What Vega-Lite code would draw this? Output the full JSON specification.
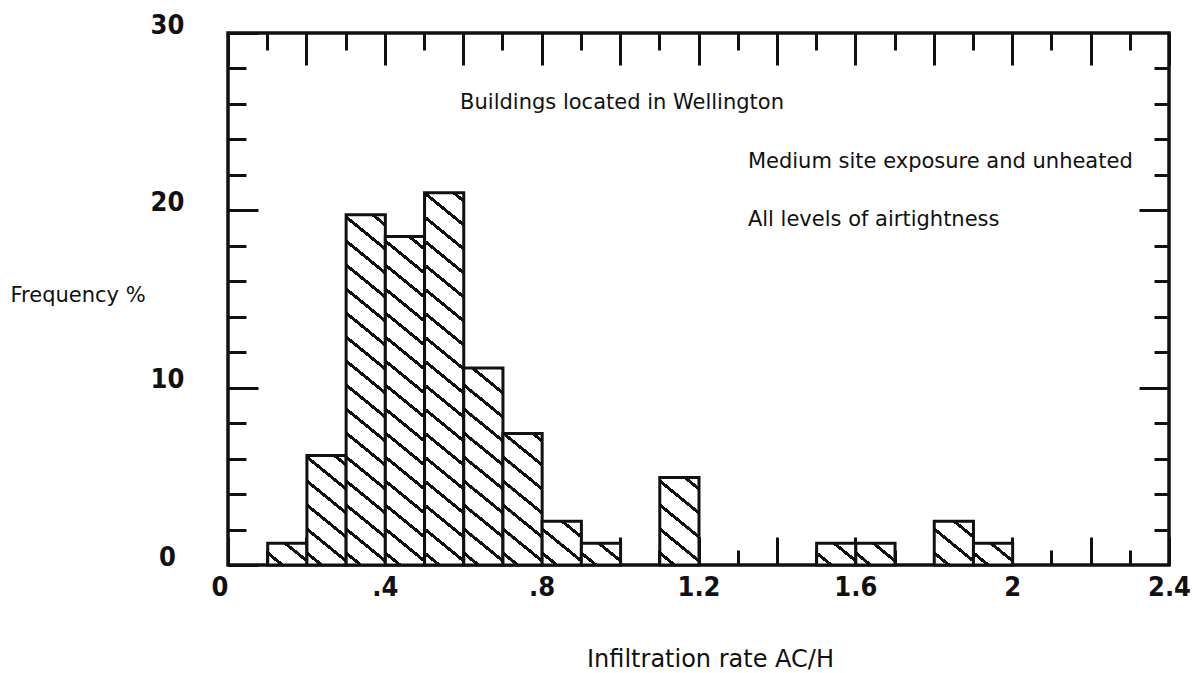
{
  "$schema": "https://vega.github.io/schema/vega-lite/v6.json",
  "width": 941,
  "height": 532,
  "autosize": {"type": "none"},
  "padding": {"left": 228, "top": 33, "right": 28, "bottom": 108},
  "background": "white",
  "config": {
    "view": {"stroke": "#111", "strokeWidth": 3.5},
    "axis": {"domain": false, "grid": false, "tickColor": "#111", "tickWidth": 3, "labelColor": "#111", "titleColor": "#111"}
  },
  "params": [
    {
      "name": "hatch",
      "value": [
        {"offset": 0, "color": "#fff"},
        {"offset": 0.02, "color": "#fff"}, {"offset": 0.02, "color": "#111"}, {"offset": 0.028, "color": "#111"}, {"offset": 0.028, "color": "#fff"},
        {"offset": 0.068, "color": "#fff"}, {"offset": 0.068, "color": "#111"}, {"offset": 0.076, "color": "#111"}, {"offset": 0.076, "color": "#fff"},
        {"offset": 0.116, "color": "#fff"}, {"offset": 0.116, "color": "#111"}, {"offset": 0.124, "color": "#111"}, {"offset": 0.124, "color": "#fff"},
        {"offset": 0.164, "color": "#fff"}, {"offset": 0.164, "color": "#111"}, {"offset": 0.172, "color": "#111"}, {"offset": 0.172, "color": "#fff"},
        {"offset": 0.212, "color": "#fff"}, {"offset": 0.212, "color": "#111"}, {"offset": 0.22, "color": "#111"}, {"offset": 0.22, "color": "#fff"},
        {"offset": 0.26, "color": "#fff"}, {"offset": 0.26, "color": "#111"}, {"offset": 0.268, "color": "#111"}, {"offset": 0.268, "color": "#fff"},
        {"offset": 0.308, "color": "#fff"}, {"offset": 0.308, "color": "#111"}, {"offset": 0.316, "color": "#111"}, {"offset": 0.316, "color": "#fff"},
        {"offset": 0.356, "color": "#fff"}, {"offset": 0.356, "color": "#111"}, {"offset": 0.364, "color": "#111"}, {"offset": 0.364, "color": "#fff"},
        {"offset": 0.404, "color": "#fff"}, {"offset": 0.404, "color": "#111"}, {"offset": 0.412, "color": "#111"}, {"offset": 0.412, "color": "#fff"},
        {"offset": 0.452, "color": "#fff"}, {"offset": 0.452, "color": "#111"}, {"offset": 0.46, "color": "#111"}, {"offset": 0.46, "color": "#fff"},
        {"offset": 0.5, "color": "#fff"}, {"offset": 0.5, "color": "#111"}, {"offset": 0.508, "color": "#111"}, {"offset": 0.508, "color": "#fff"},
        {"offset": 0.548, "color": "#fff"}, {"offset": 0.548, "color": "#111"}, {"offset": 0.556, "color": "#111"}, {"offset": 0.556, "color": "#fff"},
        {"offset": 0.596, "color": "#fff"}, {"offset": 0.596, "color": "#111"}, {"offset": 0.604, "color": "#111"}, {"offset": 0.604, "color": "#fff"},
        {"offset": 0.644, "color": "#fff"}, {"offset": 0.644, "color": "#111"}, {"offset": 0.652, "color": "#111"}, {"offset": 0.652, "color": "#fff"},
        {"offset": 0.692, "color": "#fff"}, {"offset": 0.692, "color": "#111"}, {"offset": 0.7, "color": "#111"}, {"offset": 0.7, "color": "#fff"},
        {"offset": 0.74, "color": "#fff"}, {"offset": 0.74, "color": "#111"}, {"offset": 0.748, "color": "#111"}, {"offset": 0.748, "color": "#fff"},
        {"offset": 0.788, "color": "#fff"}, {"offset": 0.788, "color": "#111"}, {"offset": 0.796, "color": "#111"}, {"offset": 0.796, "color": "#fff"},
        {"offset": 0.836, "color": "#fff"}, {"offset": 0.836, "color": "#111"}, {"offset": 0.844, "color": "#111"}, {"offset": 0.844, "color": "#fff"},
        {"offset": 0.884, "color": "#fff"}, {"offset": 0.884, "color": "#111"}, {"offset": 0.892, "color": "#111"}, {"offset": 0.892, "color": "#fff"},
        {"offset": 0.932, "color": "#fff"}, {"offset": 0.932, "color": "#111"}, {"offset": 0.94, "color": "#111"}, {"offset": 0.94, "color": "#fff"},
        {"offset": 0.98, "color": "#fff"}, {"offset": 0.98, "color": "#111"}, {"offset": 0.988, "color": "#111"}, {"offset": 0.988, "color": "#fff"},
        {"offset": 1, "color": "#fff"}
      ]
    }
  ],
  "data": {
    "values": [
      {"bin_start": 0.1, "bin_end": 0.2, "pct": 1.23},
      {"bin_start": 0.2, "bin_end": 0.3, "pct": 6.17},
      {"bin_start": 0.3, "bin_end": 0.4, "pct": 19.75},
      {"bin_start": 0.4, "bin_end": 0.5, "pct": 18.52},
      {"bin_start": 0.5, "bin_end": 0.6, "pct": 20.99},
      {"bin_start": 0.6, "bin_end": 0.7, "pct": 11.11},
      {"bin_start": 0.7, "bin_end": 0.8, "pct": 7.41},
      {"bin_start": 0.8, "bin_end": 0.9, "pct": 2.47},
      {"bin_start": 0.9, "bin_end": 1.0, "pct": 1.23},
      {"bin_start": 1.1, "bin_end": 1.2, "pct": 4.94},
      {"bin_start": 1.5, "bin_end": 1.6, "pct": 1.23},
      {"bin_start": 1.6, "bin_end": 1.7, "pct": 1.23},
      {"bin_start": 1.8, "bin_end": 1.9, "pct": 2.47},
      {"bin_start": 1.9, "bin_end": 2.0, "pct": 1.23}
    ]
  },
  "layer": [
    {
      "mark": {"type": "point", "opacity": 0},
      "encoding": {
        "x": {
          "field": "bin_start", "type": "quantitative",
          "scale": {"domain": [0, 2.4], "nice": false, "zero": false},
          "axis": {
            "orient": "bottom", "values": [0, 0.4, 0.8, 1.2, 1.6, 2, 2.4],
            "ticks": false, "tickSize": 0, "labelPadding": 30, "labelBaseline": "alphabetic",
            "format": ".1~f",
            "labelExpr": "substring(datum.label, 0, 2) == '0.' ? substring(datum.label, 1) : datum.label",
            "labelAlign": {"condition": {"test": "datum.value == 0", "value": "right"}, "value": "center"},
            "labelFont": "Liberation Sans Narrow, DejaVu Sans Condensed, sans-serif",
            "labelFontSize": 27, "labelFontWeight": "bold", "labelFlush": false, "labelOverlap": false,
            "title": "Infiltration rate AC/H", "titleX": 482, "titleY": 94,
            "titleAlign": "center", "titleBaseline": "middle",
            "titleFont": "DejaVu Sans", "titleFontSize": 24, "titleFontWeight": "normal"
          }
        },
        "y": {
          "field": "pct", "type": "quantitative",
          "scale": {"domain": [0, 30], "nice": false},
          "axis": {
            "orient": "left", "values": [0, 10, 20, 30],
            "ticks": false, "tickSize": 0, "labelPadding": 61,
            "labelAlign": "center", "labelBaseline": "alphabetic",
            "labelFont": "Liberation Sans Narrow, DejaVu Sans Condensed, sans-serif",
            "labelFontSize": 27, "labelFontWeight": "bold", "labelFlush": false, "labelOverlap": false,
            "title": "Frequency %", "titleAngle": 0, "titleX": -218, "titleY": 262,
            "titleAlign": "left", "titleBaseline": "middle",
            "titleFont": "DejaVu Sans", "titleFontSize": 21, "titleFontWeight": "normal"
          }
        }
      }
    },
    {
      "mark": {"type": "point", "opacity": 0},
      "encoding": {
        "x": {
          "field": "bin_start", "type": "quantitative",
          "scale": {"domain": [0, 2.4], "nice": false, "zero": false},
          "axis": {"orient": "bottom", "values": [0, 0.2, 0.4, 0.6, 0.8, 1, 1.2, 1.4, 1.6, 1.8, 2, 2.2, 2.4], "tickSize": -28, "labels": false, "title": null}
        },
        "y": {
          "field": "pct", "type": "quantitative",
          "scale": {"domain": [0, 30], "nice": false},
          "axis": {"orient": "left", "values": [0, 10, 20, 30], "tickSize": -30, "labels": false, "title": null}
        }
      }
    },
    {
      "mark": {"type": "point", "opacity": 0},
      "encoding": {
        "x": {
          "field": "bin_start", "type": "quantitative",
          "scale": {"domain": [0, 2.4], "nice": false, "zero": false},
          "axis": {"orient": "bottom", "values": [0.1, 0.3, 0.5, 0.7, 0.9, 1.1, 1.3, 1.5, 1.7, 1.9, 2.1, 2.3], "tickSize": -15, "labels": false, "title": null}
        },
        "y": {
          "field": "pct", "type": "quantitative",
          "scale": {"domain": [0, 30], "nice": false},
          "axis": {"orient": "left", "values": [2, 4, 6, 8, 12, 14, 16, 18, 22, 24, 26, 28], "tickSize": -18, "labels": false, "title": null}
        }
      }
    },
    {
      "mark": {"type": "point", "opacity": 0},
      "encoding": {
        "x": {
          "field": "bin_start", "type": "quantitative",
          "scale": {"domain": [0, 2.4], "nice": false, "zero": false},
          "axis": {"orient": "top", "values": [0, 0.2, 0.4, 0.6, 0.8, 1, 1.2, 1.4, 1.6, 1.8, 2, 2.2, 2.4], "tickSize": -32, "labels": false, "title": null}
        },
        "y": {
          "field": "pct", "type": "quantitative",
          "scale": {"domain": [0, 30], "nice": false},
          "axis": {"orient": "right", "values": [10, 20], "tickSize": -30, "labels": false, "title": null}
        }
      }
    },
    {
      "mark": {"type": "point", "opacity": 0},
      "encoding": {
        "x": {
          "field": "bin_start", "type": "quantitative",
          "scale": {"domain": [0, 2.4], "nice": false, "zero": false},
          "axis": {"orient": "top", "values": [0.1, 0.3, 0.5, 0.7, 0.9, 1.1, 1.3, 1.5, 1.7, 1.9, 2.1, 2.3], "tickSize": -17, "labels": false, "title": null}
        },
        "y": {
          "field": "pct", "type": "quantitative",
          "scale": {"domain": [0, 30], "nice": false},
          "axis": {"orient": "right", "values": [2, 4, 6, 8, 12, 14, 16, 18, 22, 24, 26, 28], "tickSize": -15, "labels": false, "title": null}
        }
      }
    },
    {
      "mark": {"type": "bar", "binSpacing": 0, "stroke": "#111", "strokeWidth": 3},
      "encoding": {
        "x": {
          "field": "bin_start", "type": "quantitative", "bin": "binned",
          "scale": {"domain": [0, 2.4], "nice": false, "zero": false},
          "axis": null
        },
        "x2": {"field": "bin_end"},
        "y": {
          "field": "pct", "type": "quantitative",
          "scale": {"domain": [0, 30], "nice": false},
          "axis": null
        },
        "fill": {
          "value": {
            "expr": "{gradient: 'linear', x1: 0, y1: 1, x2: 16000 / (1024 + pow(scale('y', 0) - scale('y', datum.pct), 2)), y2: 1 - 500 * (scale('y', 0) - scale('y', datum.pct)) / (1024 + pow(scale('y', 0) - scale('y', datum.pct), 2)), stops: hatch}"
          }
        }
      }
    },
    {
      "data": {"values": [{"note": "Buildings located in Wellington"}]},
      "mark": {"type": "text", "align": "left", "baseline": "middle", "font": "DejaVu Sans", "fontSize": 21, "color": "#111"},
      "encoding": {
        "x": {"datum": 0.592, "type": "quantitative", "scale": {"domain": [0, 2.4], "nice": false, "zero": false}, "axis": null},
        "y": {"datum": 26.05, "type": "quantitative", "scale": {"domain": [0, 30], "nice": false}, "axis": null},
        "text": {"field": "note"}
      }
    },
    {
      "data": {"values": [{"note": "Medium site exposure and unheated"}]},
      "mark": {"type": "text", "align": "left", "baseline": "middle", "font": "DejaVu Sans", "fontSize": 21, "color": "#111"},
      "encoding": {
        "x": {"datum": 1.326, "type": "quantitative", "scale": {"domain": [0, 2.4], "nice": false, "zero": false}, "axis": null},
        "y": {"datum": 22.73, "type": "quantitative", "scale": {"domain": [0, 30], "nice": false}, "axis": null},
        "text": {"field": "note"}
      }
    },
    {
      "data": {"values": [{"note": "All levels of airtightness"}]},
      "mark": {"type": "text", "align": "left", "baseline": "middle", "font": "DejaVu Sans", "fontSize": 21, "color": "#111"},
      "encoding": {
        "x": {"datum": 1.326, "type": "quantitative", "scale": {"domain": [0, 2.4], "nice": false, "zero": false}, "axis": null},
        "y": {"datum": 19.46, "type": "quantitative", "scale": {"domain": [0, 30], "nice": false}, "axis": null},
        "text": {"field": "note"}
      }
    }
  ],
  "resolve": {"axis": {"x": "independent", "y": "independent"}}
}
